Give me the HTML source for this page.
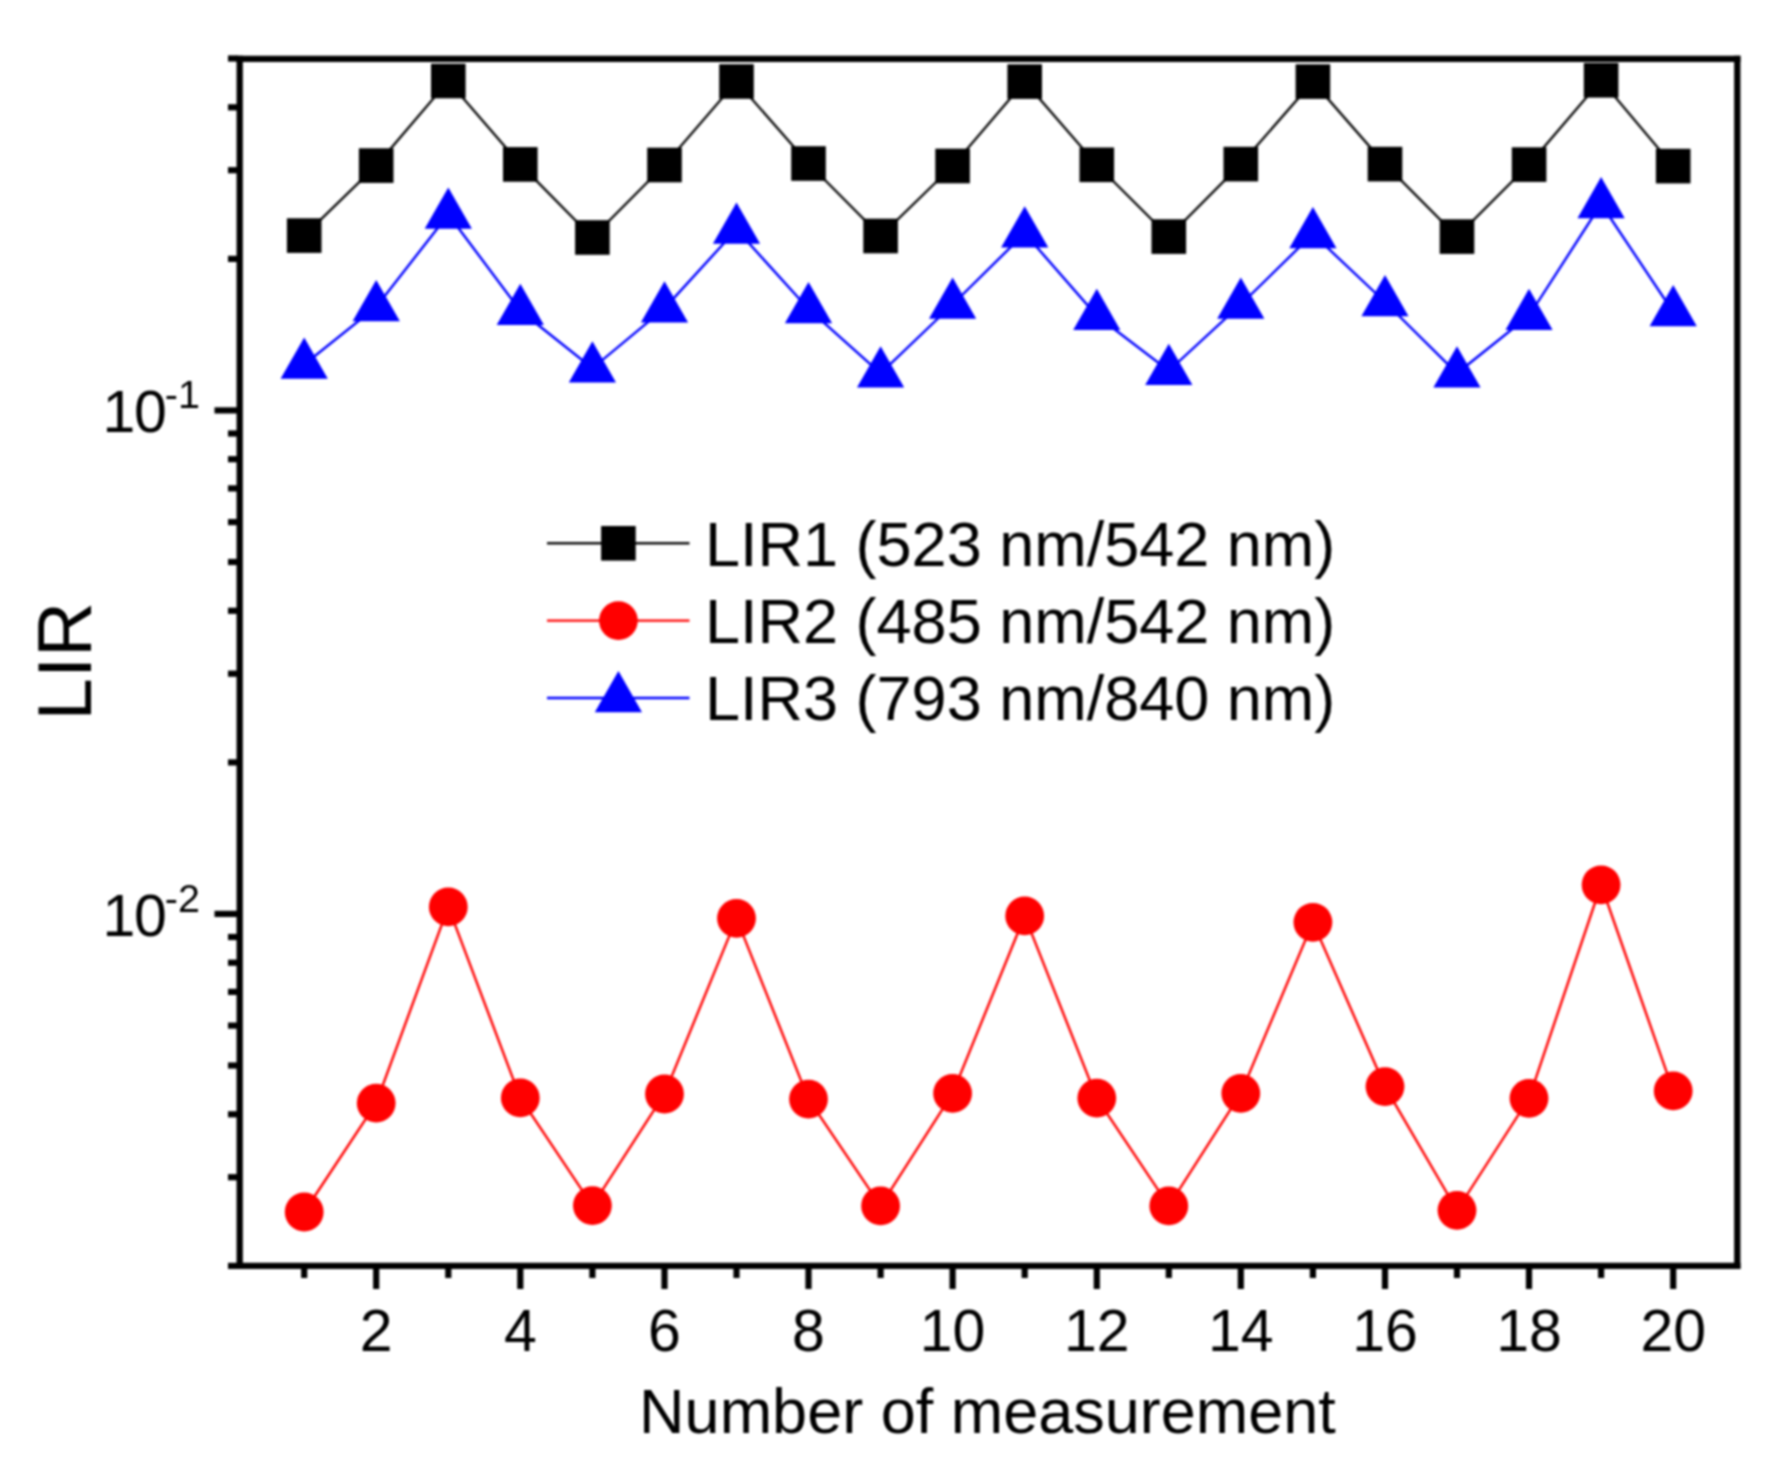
<!DOCTYPE html>
<html><head><meta charset="utf-8"><title>LIR</title>
<style>html,body{margin:0;padding:0;background:#fff}svg{display:block;filter:blur(0.8px)}text{font-family:"Liberation Sans",Arial,sans-serif;fill:#000}</style></head><body>
<svg width="1775" height="1467" viewBox="0 0 1775 1467">
<rect width="1775" height="1467" fill="#fff"/>
<polyline points="304.2,235.6 376.2,165.6 448.3,81.0 520.3,164.4 592.4,237.5 664.5,165.0 736.5,81.5 808.5,163.5 880.6,236.0 952.6,166.0 1024.7,81.6 1096.8,164.8 1168.8,236.6 1240.8,164.1 1312.9,81.6 1385.0,164.1 1457.0,236.6 1529.0,164.6 1601.1,80.3 1673.2,166.1" fill="none" stroke="#111" stroke-width="2.4"/>
<polyline points="304.2,1212.0 376.2,1103.1 448.3,906.9 520.3,1097.9 592.4,1205.6 664.5,1094.0 736.5,918.4 808.5,1099.1 880.6,1205.9 952.6,1093.4 1024.7,915.9 1096.8,1098.1 1168.8,1205.9 1240.8,1093.4 1312.9,922.3 1385.0,1086.6 1457.0,1210.3 1529.0,1098.4 1601.1,884.8 1673.2,1090.9" fill="none" stroke="#f00" stroke-width="2.4"/>
<polyline points="304.2,364.5 376.2,307.0 448.3,214.5 520.3,310.8 592.4,368.3 664.5,308.3 736.5,229.5 808.5,309.0 880.6,373.3 952.6,304.5 1024.7,233.3 1096.8,315.8 1168.8,370.8 1240.8,304.5 1312.9,234.0 1385.0,302.0 1457.0,373.3 1529.0,315.8 1601.1,204.0 1673.2,312.0" fill="none" stroke="#00f" stroke-width="2.4"/>
<rect x="286.9" y="218.3" width="34.6" height="34.6" fill="#000"/>
<rect x="358.9" y="148.3" width="34.6" height="34.6" fill="#000"/>
<rect x="431.0" y="63.7" width="34.6" height="34.6" fill="#000"/>
<rect x="503.0" y="147.1" width="34.6" height="34.6" fill="#000"/>
<rect x="575.1" y="220.2" width="34.6" height="34.6" fill="#000"/>
<rect x="647.2" y="147.7" width="34.6" height="34.6" fill="#000"/>
<rect x="719.2" y="64.2" width="34.6" height="34.6" fill="#000"/>
<rect x="791.2" y="146.2" width="34.6" height="34.6" fill="#000"/>
<rect x="863.3" y="218.7" width="34.6" height="34.6" fill="#000"/>
<rect x="935.3" y="148.7" width="34.6" height="34.6" fill="#000"/>
<rect x="1007.4" y="64.3" width="34.6" height="34.6" fill="#000"/>
<rect x="1079.5" y="147.5" width="34.6" height="34.6" fill="#000"/>
<rect x="1151.5" y="219.3" width="34.6" height="34.6" fill="#000"/>
<rect x="1223.5" y="146.8" width="34.6" height="34.6" fill="#000"/>
<rect x="1295.6" y="64.3" width="34.6" height="34.6" fill="#000"/>
<rect x="1367.7" y="146.8" width="34.6" height="34.6" fill="#000"/>
<rect x="1439.7" y="219.3" width="34.6" height="34.6" fill="#000"/>
<rect x="1511.8" y="147.3" width="34.6" height="34.6" fill="#000"/>
<rect x="1583.8" y="63.0" width="34.6" height="34.6" fill="#000"/>
<rect x="1655.9" y="148.8" width="34.6" height="34.6" fill="#000"/>
<circle cx="304.2" cy="1212.0" r="19.4" fill="#f00"/>
<circle cx="376.2" cy="1103.1" r="19.4" fill="#f00"/>
<circle cx="448.3" cy="906.9" r="19.4" fill="#f00"/>
<circle cx="520.3" cy="1097.9" r="19.4" fill="#f00"/>
<circle cx="592.4" cy="1205.6" r="19.4" fill="#f00"/>
<circle cx="664.5" cy="1094.0" r="19.4" fill="#f00"/>
<circle cx="736.5" cy="918.4" r="19.4" fill="#f00"/>
<circle cx="808.5" cy="1099.1" r="19.4" fill="#f00"/>
<circle cx="880.6" cy="1205.9" r="19.4" fill="#f00"/>
<circle cx="952.6" cy="1093.4" r="19.4" fill="#f00"/>
<circle cx="1024.7" cy="915.9" r="19.4" fill="#f00"/>
<circle cx="1096.8" cy="1098.1" r="19.4" fill="#f00"/>
<circle cx="1168.8" cy="1205.9" r="19.4" fill="#f00"/>
<circle cx="1240.8" cy="1093.4" r="19.4" fill="#f00"/>
<circle cx="1312.9" cy="922.3" r="19.4" fill="#f00"/>
<circle cx="1385.0" cy="1086.6" r="19.4" fill="#f00"/>
<circle cx="1457.0" cy="1210.3" r="19.4" fill="#f00"/>
<circle cx="1529.0" cy="1098.4" r="19.4" fill="#f00"/>
<circle cx="1601.1" cy="884.8" r="19.4" fill="#f00"/>
<circle cx="1673.2" cy="1090.9" r="19.4" fill="#f00"/>
<polygon points="304.2,337.5 327.8,378.8 280.6,378.8" fill="#00f"/>
<polygon points="376.2,280.0 399.9,321.3 352.6,321.3" fill="#00f"/>
<polygon points="448.3,187.5 471.9,228.8 424.7,228.8" fill="#00f"/>
<polygon points="520.3,283.8 543.9,325.1 496.7,325.1" fill="#00f"/>
<polygon points="592.4,341.3 616.0,382.6 568.8,382.6" fill="#00f"/>
<polygon points="664.5,281.3 688.1,322.6 640.9,322.6" fill="#00f"/>
<polygon points="736.5,202.5 760.1,243.8 712.9,243.8" fill="#00f"/>
<polygon points="808.5,282.0 832.1,323.3 784.9,323.3" fill="#00f"/>
<polygon points="880.6,346.3 904.2,387.6 857.0,387.6" fill="#00f"/>
<polygon points="952.6,277.5 976.2,318.8 929.0,318.8" fill="#00f"/>
<polygon points="1024.7,206.3 1048.3,247.6 1001.1,247.6" fill="#00f"/>
<polygon points="1096.8,288.8 1120.3,330.1 1073.2,330.1" fill="#00f"/>
<polygon points="1168.8,343.8 1192.4,385.1 1145.2,385.1" fill="#00f"/>
<polygon points="1240.8,277.5 1264.4,318.8 1217.2,318.8" fill="#00f"/>
<polygon points="1312.9,207.0 1336.5,248.3 1289.3,248.3" fill="#00f"/>
<polygon points="1385.0,275.0 1408.5,316.3 1361.4,316.3" fill="#00f"/>
<polygon points="1457.0,346.3 1480.6,387.6 1433.4,387.6" fill="#00f"/>
<polygon points="1529.0,288.8 1552.6,330.1 1505.5,330.1" fill="#00f"/>
<polygon points="1601.1,177.0 1624.7,218.3 1577.5,218.3" fill="#00f"/>
<polygon points="1673.2,285.0 1696.8,326.3 1649.6,326.3" fill="#00f"/>
<g stroke="#000" stroke-width="6.3" fill="none">
<line x1="239.7" y1="55.65" x2="239.7" y2="1268.95"/>
<line x1="1737.3" y1="55.65" x2="1737.3" y2="1268.95"/>
<line x1="236.54999999999998" y1="58.8" x2="1740.45" y2="58.8"/>
<line x1="236.54999999999998" y1="1265.8" x2="1740.45" y2="1265.8"/>
</g>
<g stroke="#000" stroke-width="6.2">
<line x1="228" y1="58.5" x2="237.54999999999998" y2="58.5"/>
<line x1="228" y1="107.3" x2="237.54999999999998" y2="107.3"/>
<line x1="228" y1="170.2" x2="237.54999999999998" y2="170.2"/>
<line x1="228" y1="258.9" x2="237.54999999999998" y2="258.9"/>
<line x1="228" y1="433.5" x2="237.54999999999998" y2="433.5"/>
<line x1="228" y1="459.2" x2="237.54999999999998" y2="459.2"/>
<line x1="228" y1="488.4" x2="237.54999999999998" y2="488.4"/>
<line x1="228" y1="522.1" x2="237.54999999999998" y2="522.1"/>
<line x1="228" y1="562.0" x2="237.54999999999998" y2="562.0"/>
<line x1="228" y1="610.8" x2="237.54999999999998" y2="610.8"/>
<line x1="228" y1="673.7" x2="237.54999999999998" y2="673.7"/>
<line x1="228" y1="762.4" x2="237.54999999999998" y2="762.4"/>
<line x1="228" y1="937.0" x2="237.54999999999998" y2="937.0"/>
<line x1="228" y1="962.7" x2="237.54999999999998" y2="962.7"/>
<line x1="228" y1="991.9" x2="237.54999999999998" y2="991.9"/>
<line x1="228" y1="1025.6" x2="237.54999999999998" y2="1025.6"/>
<line x1="228" y1="1065.5" x2="237.54999999999998" y2="1065.5"/>
<line x1="228" y1="1114.3" x2="237.54999999999998" y2="1114.3"/>
<line x1="228" y1="1177.2" x2="237.54999999999998" y2="1177.2"/>
<line x1="228" y1="1265.9" x2="237.54999999999998" y2="1265.9"/>
<line x1="214.5" y1="410.4" x2="237.54999999999998" y2="410.4"/>
<line x1="214.5" y1="913.9" x2="237.54999999999998" y2="913.9"/>
<line x1="304.2" y1="1267.95" x2="304.2" y2="1278"/>
<line x1="376.2" y1="1267.95" x2="376.2" y2="1289"/>
<line x1="448.3" y1="1267.95" x2="448.3" y2="1278"/>
<line x1="520.3" y1="1267.95" x2="520.3" y2="1289"/>
<line x1="592.4" y1="1267.95" x2="592.4" y2="1278"/>
<line x1="664.5" y1="1267.95" x2="664.5" y2="1289"/>
<line x1="736.5" y1="1267.95" x2="736.5" y2="1278"/>
<line x1="808.5" y1="1267.95" x2="808.5" y2="1289"/>
<line x1="880.6" y1="1267.95" x2="880.6" y2="1278"/>
<line x1="952.6" y1="1267.95" x2="952.6" y2="1289"/>
<line x1="1024.7" y1="1267.95" x2="1024.7" y2="1278"/>
<line x1="1096.8" y1="1267.95" x2="1096.8" y2="1289"/>
<line x1="1168.8" y1="1267.95" x2="1168.8" y2="1278"/>
<line x1="1240.8" y1="1267.95" x2="1240.8" y2="1289"/>
<line x1="1312.9" y1="1267.95" x2="1312.9" y2="1278"/>
<line x1="1385.0" y1="1267.95" x2="1385.0" y2="1289"/>
<line x1="1457.0" y1="1267.95" x2="1457.0" y2="1278"/>
<line x1="1529.0" y1="1267.95" x2="1529.0" y2="1289"/>
<line x1="1601.1" y1="1267.95" x2="1601.1" y2="1278"/>
<line x1="1673.2" y1="1267.95" x2="1673.2" y2="1289"/>
</g>
<text x="376.2" y="1350.5" font-size="59" text-anchor="middle">2</text>
<text x="520.3" y="1350.5" font-size="59" text-anchor="middle">4</text>
<text x="664.5" y="1350.5" font-size="59" text-anchor="middle">6</text>
<text x="808.5" y="1350.5" font-size="59" text-anchor="middle">8</text>
<text x="952.6" y="1350.5" font-size="59" text-anchor="middle">10</text>
<text x="1096.8" y="1350.5" font-size="59" text-anchor="middle">12</text>
<text x="1240.8" y="1350.5" font-size="59" text-anchor="middle">14</text>
<text x="1385.0" y="1350.5" font-size="59" text-anchor="middle">16</text>
<text x="1529.0" y="1350.5" font-size="59" text-anchor="middle">18</text>
<text x="1673.2" y="1350.5" font-size="59" text-anchor="middle">20</text>
<text x="102.4" y="432.0" font-size="59" letter-spacing="-1.3">10<tspan font-size="39.5" dy="-23.6" dx="-0.6" letter-spacing="0">-1</tspan></text>
<text x="102.4" y="935.5" font-size="59" letter-spacing="-1.3">10<tspan font-size="39.5" dy="-23.6" dx="-0.6" letter-spacing="0">-2</tspan></text>
<text x="987.5" y="1432.5" font-size="63" text-anchor="middle">Number of measurement</text>
<text transform="translate(91.3,720.5) rotate(-90) scale(1.01,1)" font-size="75.5">LIR</text>
<line x1="547" y1="543.3" x2="689.5" y2="543.3" stroke="#111" stroke-width="2.4"/>
<rect x="601.1" y="526.0" width="34.6" height="34.6" fill="#000"/>
<text x="705" y="565.5" font-size="63">LIR1 (523 nm/542 nm)</text>
<line x1="547" y1="620.6" x2="689.5" y2="620.6" stroke="#f00" stroke-width="2.4"/>
<circle cx="618.4" cy="620.6" r="19.4" fill="#f00"/>
<text x="705" y="642.8" font-size="63">LIR2 (485 nm/542 nm)</text>
<line x1="547" y1="698" x2="689.5" y2="698" stroke="#00f" stroke-width="2.4"/>
<polygon points="618.4,671.0 642.0,712.3 594.8,712.3" fill="#00f"/>
<text x="705" y="720.2" font-size="63">LIR3 (793 nm/840 nm)</text>
</svg></body></html>
